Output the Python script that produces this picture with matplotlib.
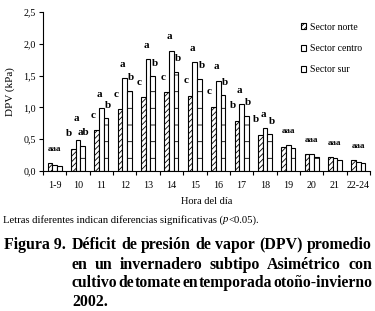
import matplotlib
matplotlib.use("Agg")
import matplotlib.pyplot as plt
import numpy as np
from matplotlib.patches import Patch
from matplotlib.ticker import FuncFormatter

plt.rcParams['font.family'] = ['Liberation Serif', 'DejaVu Serif']
plt.rcParams['hatch.linewidth'] = 0.6

hours = ["1-9", "10", "11", "12", "13", "14", "15", "16", "17", "18", "19", "20", "21", "22-24"]
norte = [0.12, 0.35, 0.64, 0.97, 1.16, 1.24, 1.18, 1.01, 0.79, 0.57, 0.38, 0.27, 0.22, 0.17]
centro = [0.10, 0.48, 0.99, 1.46, 1.76, 1.89, 1.71, 1.42, 1.05, 0.67, 0.41, 0.27, 0.21, 0.14]
sur = [0.08, 0.40, 0.83, 1.26, 1.49, 1.56, 1.45, 1.19, 0.87, 0.58, 0.36, 0.22, 0.17, 0.13]
norte_letters = ["", "b", "c", "c", "c", "c", "c", "c", "b", "b", "", "", "", ""]
centro_letters = ["", "a", "a", "a", "a", "a", "a", "a", "a", "a", "", "", "", ""]
sur_letters = ["", "ab", "b", "b", "b", "b", "b", "b", "b", "b", "", "", "", ""]
group_letters = ["aaa", "", "", "", "", "", "", "", "", "", "aaa", "aaa", "aaa", "aaa"]
series_names = ["Sector norte", "Sector centro", "Sector sur"]

W, H = 375, 311
fig = plt.figure(figsize=(W / 100, H / 100), dpi=100)
ax = fig.add_axes([43 / W, 1 - 171 / H, (370 - 43) / W, (171 - 12) / H])

x = np.arange(len(hours))
bw = 0.2
b1 = ax.bar(x - bw, norte, bw, facecolor='white', edgecolor='black', hatch='//////', linewidth=0.8)
b2 = ax.bar(x, centro, bw, facecolor='white', edgecolor='black', linewidth=0.8)
b3 = ax.bar(x + bw, sur, bw, facecolor='white', edgecolor='black', hatch='-', linewidth=0.8)

ax.set_xlim(-0.5, len(hours) - 0.5)
ax.set_ylim(0, 2.5)
ax.set_yticks(np.arange(0, 2.51, 0.5))
ax.yaxis.set_major_formatter(FuncFormatter(lambda v, p: f"{v:.1f}".replace('.', ',')))
ax.set_xticks(x)
ax.set_xticklabels(hours)
ax.set_xticks(np.arange(-0.5, len(hours), 1), minor=True)
ax.tick_params(axis='x', which='major', length=0, pad=7, labelsize=7.2)
ax.tick_params(axis='x', which='minor', length=3, direction='out', width=0.8)
ax.tick_params(axis='y', length=3, direction='out', width=0.8, labelsize=7.2, pad=2)
for s in ['top', 'right']:
    ax.spines[s].set_visible(False)
for s in ['left', 'bottom']:
    ax.spines[s].set_linewidth(0.8)
ax.set_ylabel("DPV (kPa)", fontsize=8, labelpad=6)
ax.set_xlabel("Hora del día", fontsize=7.5, labelpad=5)

# significance letters
def put(xv, yv, txt, dx, dy, fs=8):
    ax.annotate(txt, (xv, yv), xytext=(dx * 0.72, dy * 0.72), textcoords='offset points',
                ha='center', va='center', fontsize=fs, fontweight='bold')

for i in range(len(hours)):
    if norte_letters[i]:
        put(x[i] - bw, norte[i], norte_letters[i], -4, 15)
    if centro_letters[i]:
        put(x[i], centro[i], centro_letters[i], -2, 14 if i > 1 else 22)
    if sur_letters[i]:
        put(x[i] + bw, sur[i], sur_letters[i], 2 if i > 1 else 1, 13)
    if group_letters[i]:
        put(x[i], max(norte[i], centro[i], sur[i]), group_letters[i], 0, 14, fs=6.5)

handles = [Patch(facecolor='white', edgecolor='black', hatch='//////', linewidth=0.8),
           Patch(facecolor='white', edgecolor='black', linewidth=0.8),
           Patch(facecolor='white', edgecolor='black', hatch='-', linewidth=0.8)]
fig.legend(handles, series_names, loc='upper left', bbox_to_anchor=(296 / W, 1 - 18 / H),
           frameon=False, fontsize=7, handlelength=0.55, handleheight=0.55, handletextpad=0.4,
           labelspacing=1.25, borderpad=0)

fig.canvas.draw()
r = fig.canvas.get_renderer()

def text_w(t):
    return t.get_window_extent(r).width

# note line
yn = 1 - 220 / H
xp = 3
pieces = [("Letras diferentes indican diferencias significativas (", 'normal'),
          ("p", 'italic'), ("<0.05).", 'normal')]
for s, st in pieces:
    t = fig.text(xp / W, yn, s, fontsize=7.7, style=st, va='center', ha='left')
    xp += text_w(t)

# caption, justified
cap_fs = 11.4
fig.text(4 / W, 1 - 245 / H, "Figura 9.", fontsize=cap_fs, fontweight='bold', va='center')
lines = [("Déficit de presión de vapor (DPV) promedio", 245, True),
         ("en un invernadero subtipo Asimétrico con", 265, True),
         ("cultivo de tomate en temporada otoño-invierno", 283, True),
         ("2002.", 302, False)]
x0, x1 = 72, 372
for line, yy, just in lines:
    words = line.split(" ")
    ts = [fig.text(0, 1 - yy / H, w_, fontsize=cap_fs, fontweight='bold', va='center', ha='left')
          for w_ in words]
    widths = [text_w(t) for t in ts]
    avail = x1 - x0
    if sum(widths) + 0.5 * (len(words) - 1) > avail:
        sc = (avail - 0.5 * (len(words) - 1)) / sum(widths)
        for t in ts:
            t.set_fontsize(cap_fs * sc)
        widths = [text_w(t) for t in ts]
    if just and len(words) > 1:
        gap = (avail - sum(widths)) / (len(words) - 1)
        gap = max(gap, 0.5)
    else:
        gap = 3.5
    xc = x0
    for t, wd in zip(ts, widths):
        t.set_x(xc / W)
        xc += wd + gap

fig.savefig("out.png", dpi=100)
